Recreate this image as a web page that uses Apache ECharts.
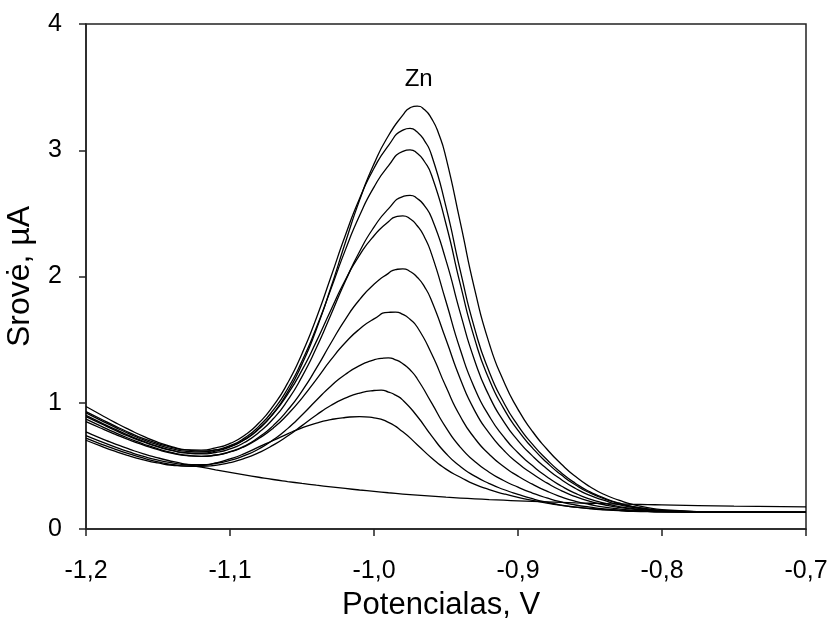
<!DOCTYPE html>
<html><head><meta charset="utf-8">
<script src="https://cdn.jsdelivr.net/npm/echarts@6/dist/echarts.min.js"></script>
<style>html,body{margin:0;padding:0;background:#fff}#c{width:832px;height:618px}</style>
</head><body><div id="c"></div>
<script>
// Potential (V)
const potentials = [-1.2, -1.19, -1.18, -1.17, -1.16, -1.15, -1.14, -1.13, -1.12, -1.11, -1.1, -1.09, -1.08, -1.07, -1.06, -1.05, -1.04, -1.03, -1.02, -1.01, -1.0, -0.99, -0.98, -0.97, -0.96, -0.95, -0.94, -0.93, -0.92, -0.91, -0.9, -0.89, -0.88, -0.87, -0.86, -0.85, -0.84, -0.83, -0.82, -0.81, -0.8, -0.75, -0.7];
// Current (µA): background curve, then curves with growing Zn peak
const baseline = [0.77, 0.72, 0.675, 0.633, 0.595, 0.563, 0.535, 0.511, 0.49, 0.469, 0.449, 0.429, 0.41, 0.392, 0.376, 0.361, 0.347, 0.334, 0.321, 0.309, 0.298, 0.287, 0.277, 0.268, 0.26, 0.252, 0.245, 0.239, 0.233, 0.228, 0.223, 0.219, 0.215, 0.211, 0.207, 0.204, 0.201, 0.198, 0.195, 0.193, 0.191, 0.181, 0.175];
const curve1 = [0.703, 0.658, 0.616, 0.579, 0.548, 0.523, 0.505, 0.499, 0.503, 0.523, 0.555, 0.597, 0.65, 0.701, 0.754, 0.801, 0.839, 0.866, 0.883, 0.89, 0.881, 0.845, 0.77, 0.668, 0.563, 0.474, 0.41, 0.353, 0.312, 0.279, 0.251, 0.227, 0.205, 0.187, 0.173, 0.163, 0.154, 0.148, 0.143, 0.14, 0.137, 0.134, 0.133];
const curve2 = [0.72, 0.675, 0.633, 0.595, 0.561, 0.532, 0.511, 0.498, 0.496, 0.505, 0.526, 0.559, 0.605, 0.664, 0.736, 0.819, 0.903, 0.978, 1.036, 1.077, 1.097, 1.085, 1.021, 0.893, 0.738, 0.598, 0.495, 0.419, 0.36, 0.313, 0.274, 0.24, 0.212, 0.189, 0.173, 0.16, 0.151, 0.145, 0.14, 0.138, 0.135, 0.133, 0.132];
const curve3 = [0.74, 0.694, 0.65, 0.61, 0.575, 0.546, 0.524, 0.511, 0.51, 0.52, 0.544, 0.581, 0.634, 0.706, 0.795, 0.903, 1.02, 1.131, 1.224, 1.294, 1.34, 1.356, 1.309, 1.19, 0.999, 0.803, 0.647, 0.535, 0.45, 0.384, 0.331, 0.285, 0.246, 0.214, 0.19, 0.173, 0.159, 0.15, 0.144, 0.139, 0.136, 0.133, 0.132];
const curve4 = [0.85, 0.8, 0.752, 0.706, 0.665, 0.628, 0.6, 0.582, 0.576, 0.584, 0.61, 0.653, 0.717, 0.799, 0.907, 1.037, 1.186, 1.339, 1.475, 1.584, 1.664, 1.716, 1.70, 1.60, 1.388, 1.126, 0.891, 0.718, 0.592, 0.495, 0.419, 0.355, 0.30, 0.255, 0.219, 0.194, 0.173, 0.159, 0.149, 0.142, 0.138, 0.133, 0.132];
const curve5 = [0.87, 0.817, 0.765, 0.717, 0.673, 0.635, 0.604, 0.584, 0.576, 0.586, 0.612, 0.657, 0.727, 0.819, 0.941, 1.093, 1.274, 1.471, 1.659, 1.817, 1.938, 2.025, 2.06, 1.994, 1.808, 1.501, 1.187, 0.936, 0.759, 0.625, 0.52, 0.437, 0.365, 0.304, 0.256, 0.219, 0.192, 0.171, 0.157, 0.147, 0.141, 0.133, 0.132];
const curve6 = [0.89, 0.836, 0.783, 0.733, 0.689, 0.65, 0.621, 0.603, 0.60, 0.616, 0.651, 0.708, 0.796, 0.913, 1.067, 1.258, 1.486, 1.733, 1.97, 2.169, 2.323, 2.433, 2.48, 2.402, 2.177, 1.802, 1.418, 1.111, 0.894, 0.731, 0.604, 0.502, 0.414, 0.341, 0.282, 0.237, 0.204, 0.178, 0.162, 0.149, 0.142, 0.133, 0.132];
const curve7 = [0.90, 0.845, 0.791, 0.74, 0.694, 0.654, 0.622, 0.602, 0.595, 0.606, 0.634, 0.685, 0.764, 0.873, 1.019, 1.207, 1.435, 1.695, 1.96, 2.198, 2.391, 2.536, 2.633, 2.618, 2.465, 2.128, 1.708, 1.331, 1.053, 0.853, 0.70, 0.579, 0.478, 0.392, 0.321, 0.266, 0.226, 0.193, 0.171, 0.155, 0.145, 0.133, 0.132];
const curve8 = [0.92, 0.863, 0.807, 0.754, 0.706, 0.666, 0.634, 0.615, 0.611, 0.626, 0.66, 0.72, 0.813, 0.941, 1.111, 1.331, 1.596, 1.898, 2.207, 2.483, 2.708, 2.876, 2.991, 2.976, 2.802, 2.416, 1.935, 1.502, 1.184, 0.956, 0.781, 0.643, 0.527, 0.429, 0.348, 0.285, 0.239, 0.202, 0.176, 0.158, 0.146, 0.133, 0.132];
const curve9 = [0.93, 0.873, 0.817, 0.764, 0.716, 0.677, 0.645, 0.627, 0.625, 0.642, 0.678, 0.741, 0.839, 0.975, 1.155, 1.389, 1.672, 1.994, 2.323, 2.618, 2.857, 3.037, 3.159, 3.144, 2.961, 2.552, 2.042, 1.583, 1.246, 1.004, 0.819, 0.672, 0.55, 0.446, 0.361, 0.294, 0.245, 0.206, 0.178, 0.16, 0.147, 0.133, 0.132];
const curve10 = [0.97, 0.907, 0.845, 0.787, 0.733, 0.687, 0.65, 0.626, 0.617, 0.626, 0.655, 0.707, 0.791, 0.915, 1.084, 1.306, 1.583, 1.911, 2.265, 2.605, 2.892, 3.115, 3.278, 3.35, 3.25, 2.941, 2.424, 1.894, 1.47, 1.172, 0.948, 0.774, 0.634, 0.515, 0.415, 0.335, 0.273, 0.229, 0.193, 0.17, 0.154, 0.133, 0.132];
// Extra readings around each peak top (half-step potentials), per curve
const peakPotentials = [[], [], [-0.995, -0.985], [-0.995, -0.985, -0.975], [-0.985, -0.975], [-0.985, -0.975, -0.965], [-0.985, -0.975, -0.965], [-0.975, -0.965], [-0.975, -0.965], [-0.975, -0.965], [-0.975, -0.965, -0.955]];
const peakCurrents = [[], [], [1.10, 1.06], [1.352, 1.34, 1.261], [1.718, 1.661], [2.055, 2.04, 1.92], [2.472, 2.457, 2.313], [2.643, 2.561], [3.003, 2.911], [3.173, 3.076], [3.336, 3.322, 3.128]];
// Peak annotation
const annotationText = ['Zn'];
const annotationX = [-0.969];
const annotationY = [3.56];

const FONT = '"Liberation Sans", Arial, sans-serif';
const AX = '#222';
const curves = [baseline, curve1, curve2, curve3, curve4, curve5, curve6, curve7, curve8, curve9, curve10];
const series = curves.map((ys, k) => {
  const pts = potentials.map((x, i) => [x, ys[i]]);
  peakPotentials[k].forEach((x, j) => pts.push([x, peakCurrents[k][j]]));
  pts.sort((a, b) => a[0] - b[0]);
  return {
    type: 'line',
    data: pts,
    showSymbol: false,
    smooth: 0.6,
    silent: true,
    lineStyle: { color: '#000', width: 1.3 }
  };
});
series.push({
  type: 'scatter',
  data: annotationText.map((t, i) => [annotationX[i], annotationY[i], t]),
  symbolSize: 0,
  silent: true,
  itemStyle: { opacity: 1 },
  label: { show: true, position: 'inside', formatter: p => p.data[2], color: '#000', fontSize: 24, fontFamily: FONT, textBorderWidth: 0 }
});

const chart = echarts.init(document.getElementById('c'));
chart.setOption({
  animation: false,
  backgroundColor: '#fff',
  grid: { left: 86, right: 26, top: 24, bottom: 89, containLabel: false, outerBoundsMode: 'none', show: true, borderColor: AX, borderWidth: 1.5, backgroundColor: 'transparent' },
  xAxis: {
    type: 'value', min: -1.2, max: -0.7, interval: 0.1,
    axisLine: { show: true, onZero: false, lineStyle: { color: AX, width: 1.5 } },
    axisTick: { show: true, inside: false, length: 7, lineStyle: { color: AX, width: 1.5 } },
    splitLine: { show: false },
    axisLabel: { color: '#000', fontSize: 25, fontFamily: FONT, margin: 30, showMinLabel: true, showMaxLabel: true,
      formatter: v => v.toFixed(1).replace('.', ',') },
    name: 'Potencialas, V', nameLocation: 'middle', nameGap: 61,
    nameTextStyle: { color: '#000', fontSize: 31, fontFamily: FONT, padding: [0, 10, 0, 0] }
  },
  yAxis: {
    type: 'value', min: 0, max: 4, interval: 1,
    axisLine: { show: true, onZero: false, lineStyle: { color: AX, width: 1.5 } },
    axisTick: { show: true, inside: false, length: 7, lineStyle: { color: AX, width: 1.5 } },
    splitLine: { show: false },
    axisLabel: { color: '#000', fontSize: 25, fontFamily: FONT, margin: 24, formatter: v => String(v) },
    name: 'Srovė, µA', nameLocation: 'middle', nameGap: 50, nameRotate: 90,
    nameTextStyle: { color: '#000', fontSize: 32, fontFamily: FONT }
  },
  series: series
});
</script>
</body></html>
